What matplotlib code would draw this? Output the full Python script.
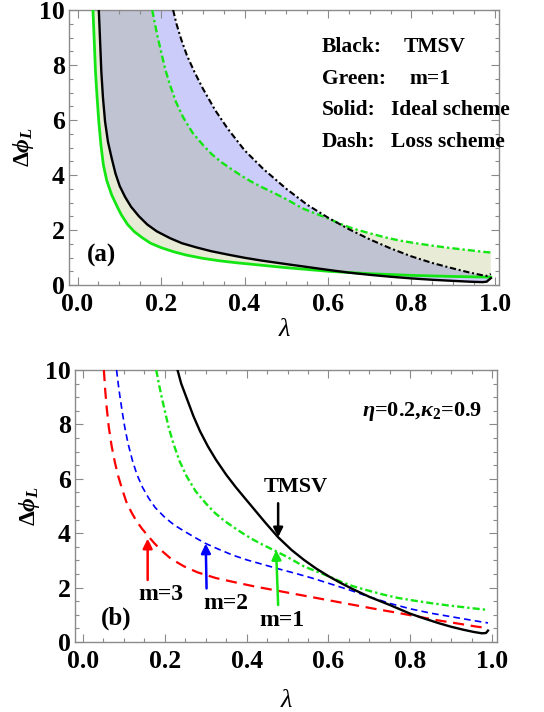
import numpy as np
import matplotlib
matplotlib.use("Agg")
import matplotlib.pyplot as plt
from matplotlib.ticker import MultipleLocator

plt.rcParams['font.family'] = ['Liberation Serif', 'DejaVu Serif']
plt.rcParams['mathtext.fontset'] = 'custom'
plt.rcParams['mathtext.rm'] = 'Liberation Serif:bold'
plt.rcParams['mathtext.bf'] = 'Liberation Serif:bold'
plt.rcParams['mathtext.it'] = 'Liberation Serif:bold:italic'

# ---------------- data ----------------
# m=1, ideal scheme (green solid, panel a)
lam_m1_ideal = [0.037, 0.040, 0.043, 0.047, 0.051, 0.056, 0.062, 0.070, 0.082, 0.095,
                0.105, 0.12, 0.136, 0.155, 0.175, 0.20, 0.23, 0.26, 0.30, 0.34,
                0.38, 0.44, 0.50, 0.60, 0.70, 0.80, 0.90, 0.97, 0.99]
phi_m1_ideal = [10, 8.9, 7.76, 6.8, 5.94, 5.1, 4.36, 3.8, 3.27, 2.85,
                2.55, 2.2, 1.94, 1.72, 1.52, 1.36, 1.21, 1.09, 0.97, 0.88,
                0.81, 0.72, 0.63, 0.5, 0.41, 0.35, 0.31, 0.29, 0.285]

# TMSV, ideal scheme (black solid, panel a)
lam_tmsv_ideal = [0.051, 0.054, 0.057, 0.061, 0.066, 0.073, 0.082, 0.091, 0.101, 0.114,
                  0.128, 0.147, 0.167, 0.19, 0.222, 0.25, 0.284, 0.32, 0.362, 0.40,
                  0.44, 0.50, 0.55, 0.60, 0.65, 0.70, 0.75, 0.80, 0.85, 0.90,
                  0.94, 0.97, 0.98, 0.99]
phi_tmsv_ideal = [10, 8.9, 7.76, 6.8, 5.94, 5.2, 4.6, 4.05, 3.6, 3.2,
                  2.85, 2.5, 2.2, 1.95, 1.7, 1.52, 1.37, 1.23, 1.1, 0.99,
                  0.89, 0.76, 0.655, 0.55, 0.45, 0.37, 0.3, 0.24, 0.19, 0.15,
                  0.12, 0.105, 0.12, 0.25]

# m=1, loss scheme (green dash-dot, both panels)
lam_m1_loss = [0.179, 0.186, 0.193, 0.2, 0.21, 0.222, 0.236, 0.253, 0.275, 0.30,
               0.322, 0.346, 0.37, 0.39, 0.415, 0.44, 0.47, 0.50, 0.54, 0.57,
               0.6, 0.63, 0.66, 0.70, 0.735, 0.77, 0.81, 0.85, 0.89, 0.93,
               0.97, 0.99]
phi_m1_loss = [10, 9.45, 8.95, 8.5, 7.85, 7.25, 6.65, 6.1, 5.55, 5.1,
               4.75, 4.45, 4.2, 4.0, 3.77, 3.57, 3.35, 3.12, 2.78, 2.6,
               2.42, 2.22, 2.05, 1.88, 1.74, 1.62, 1.52, 1.43, 1.35, 1.28,
               1.21, 1.18]

# TMSV, loss scheme as drawn in panel (a) (black dash-dot)
lam_tmsv_loss_a = [0.229, 0.237, 0.248, 0.262, 0.28, 0.30, 0.33, 0.36, 0.40, 0.445,
                   0.50, 0.55, 0.60, 0.65, 0.70, 0.75, 0.80, 0.85, 0.90, 0.94,
                   0.965, 0.98, 0.99]
phi_tmsv_loss_a = [10, 9.5, 8.95, 8.35, 7.75, 7.15, 6.35, 5.68, 4.9, 4.22,
                   3.5, 2.92, 2.45, 2.03, 1.66, 1.33, 1.04, 0.8, 0.6, 0.45,
                   0.37, 0.33, 0.4]

# TMSV, loss scheme as drawn in panel (b) (black solid)
lam_tmsv_loss_b = [0.231, 0.24, 0.255, 0.27, 0.286, 0.305, 0.325, 0.35, 0.373, 0.395,
                   0.42, 0.445, 0.477, 0.51, 0.54, 0.57, 0.6, 0.63, 0.66, 0.70,
                   0.75, 0.80, 0.835, 0.87, 0.90, 0.93, 0.955, 0.975, 0.985, 0.99]
phi_tmsv_loss_b = [10, 9.5, 8.9, 8.3, 7.75, 7.2, 6.7, 6.15, 5.7, 5.3,
                   4.85, 4.4, 3.85, 3.38, 3.02, 2.7, 2.42, 2.17, 1.94, 1.66,
                   1.36, 1.04, 0.86, 0.69, 0.56, 0.45, 0.37, 0.32, 0.33, 0.42]

# m=2, loss scheme (blue dashed, panel b)
lam_m2_loss = [0.082, 0.086, 0.09, 0.096, 0.102, 0.11, 0.121, 0.132, 0.145, 0.16,
               0.176, 0.2, 0.223, 0.25, 0.275, 0.30, 0.33, 0.365, 0.40, 0.44,
               0.48, 0.52, 0.56, 0.60, 0.65, 0.70, 0.75, 0.80, 0.85, 0.90,
               0.95, 0.99]
phi_m2_loss = [10, 9.5, 9.05, 8.45, 7.9, 7.3, 6.66, 6.15, 5.7, 5.3,
               4.95, 4.58, 4.3, 4.05, 3.83, 3.62, 3.42, 3.2, 3.02, 2.85,
               2.68, 2.52, 2.35, 2.16, 1.92, 1.66, 1.42, 1.22, 1.06, 0.93,
               0.8, 0.7]

# m=3, loss scheme (red dashed, panel b)
lam_m3_loss = [0.051, 0.054, 0.058, 0.063, 0.07, 0.078, 0.086, 0.096, 0.106, 0.118,
               0.13, 0.145, 0.16, 0.175, 0.192, 0.215, 0.247, 0.28, 0.325, 0.37,
               0.42, 0.47, 0.52, 0.57, 0.62, 0.67, 0.72, 0.77, 0.82, 0.87,
               0.92, 0.96, 0.99]
phi_m3_loss = [10, 9.3, 8.6, 7.9, 7.2, 6.6, 6.1, 5.6, 5.15, 4.78,
               4.46, 4.15, 3.88, 3.62, 3.36, 3.06, 2.78, 2.56, 2.35, 2.2,
               2.04, 1.9, 1.76, 1.62, 1.48, 1.34, 1.2, 1.07, 0.93, 0.79,
               0.67, 0.57, 0.51]

x_ticks = [0.0, 0.2, 0.4, 0.6, 0.8, 1.0]
x_ticklabels = ["0.0", "0.2", "0.4", "0.6", "0.8", "1.0"]
y_ticks = [0, 2, 4, 6, 8, 10]
y_ticklabels = ["0", "2", "4", "6", "8", "10"]

# ---------------- styling ----------------
GREEN = '#14e614'
BLUE = '#0000ff'
RED = '#ff0000'
SPINE = '#8a8a8a'

fig = plt.figure(figsize=(5.44, 7.12), dpi=100)
ax1 = fig.add_axes([69/544, 1-285/712, (499-69)/544, (285-10)/712])
ax2 = fig.add_axes([75/544, 1-642/712, (497-75)/544, (642-370)/712])


def style_axes(ax, xlim, xlabelpad):
    ax.set_xlim(*xlim)
    ax.set_ylim(0, 10)
    ax.set_xticks(x_ticks)
    ax.set_xticklabels(x_ticklabels)
    ax.set_yticks(y_ticks)
    ax.set_yticklabels(y_ticklabels)
    ax.xaxis.set_minor_locator(MultipleLocator(0.05))
    ax.yaxis.set_minor_locator(MultipleLocator(0.5))
    for s in ax.spines.values():
        s.set_color(SPINE)
        s.set_linewidth(1.0)
    ax.tick_params(which='both', direction='in', top=True, right=True, color=SPINE, width=0.8)
    ax.tick_params(which='major', length=5.5, labelsize=18.5)
    ax.tick_params(axis='x', which='major', pad=6)
    ax.tick_params(axis='y', which='major', pad=3)
    ax.tick_params(which='minor', length=3)
    for lab in ax.get_xticklabels() + ax.get_yticklabels():
        lab.set_fontweight('bold')
    ax.set_xlabel('λ', fontsize=19, fontstyle='italic', labelpad=xlabelpad)
    ax.set_ylabel(r'$\Delta\phi_L$', fontsize=17, labelpad=2)


# ---------------- panel (a) ----------------
style_axes(ax1, (-0.0204, 1.0096), 2)

ax1.fill(np.concatenate([lam_tmsv_ideal, lam_tmsv_loss_a[::-1]]),
         np.concatenate([phi_tmsv_ideal, phi_tmsv_loss_a[::-1]]),
         color=(0, 0, 0.9), alpha=0.2, lw=0, zorder=1)
ax1.fill(np.concatenate([lam_m1_ideal, lam_m1_loss[::-1]]),
         np.concatenate([phi_m1_ideal, phi_m1_loss[::-1]]),
         color=(0.55, 0.63, 0.2), alpha=0.2, lw=0, zorder=1)

ax1.plot(lam_m1_ideal, phi_m1_ideal, color=GREEN, lw=2.0, zorder=3)
ax1.plot(lam_tmsv_ideal, phi_tmsv_ideal, color='black', lw=1.7, zorder=4)
ax1.plot(lam_m1_loss, phi_m1_loss, color=GREEN, lw=1.7, ls=(0, (3, 1.3, 1, 1.3)), zorder=3)
ax1.plot(lam_tmsv_loss_a, phi_tmsv_loss_a, color='black', lw=1.5, ls=(0, (3, 1.3, 1, 1.3)), zorder=4)

tk = dict(fontsize=15.5, fontweight='bold', va='center', ha='left')
rows_y = [8.67, 7.49, 6.36, 5.21]
ax1.text(0.585, rows_y[0], 'Black:', **tk)
ax1.text(0.782, rows_y[0], 'TMSV', **tk)
ax1.text(0.585, rows_y[1], 'Green:', **tk)
ax1.text(0.795, rows_y[1], 'm=1', **tk)
ax1.text(0.585, rows_y[2], 'Solid:', **tk)
ax1.text(0.752, rows_y[2], 'Ideal scheme', **tk)
ax1.text(0.585, rows_y[3], 'Dash:', **tk)
ax1.text(0.752, rows_y[3], 'Loss scheme', **tk)
ax1.text(0.058, 1.09, '(a)', fontsize=18, fontweight='bold', ha='center', va='center')

# ---------------- panel (b) ----------------
style_axes(ax2, (-0.0196, 1.012), 12)

ax2.plot(lam_m3_loss, phi_m3_loss, color=RED, lw=1.6, ls=(0, (5, 3)), zorder=3)
ax2.plot(lam_m2_loss, phi_m2_loss, color=BLUE, lw=1.2, ls=(0, (4, 2.5)), zorder=3)
ax2.plot(lam_m1_loss, phi_m1_loss, color=GREEN, lw=1.7, ls=(0, (3, 1.3, 1, 1.3)), zorder=3)
ax2.plot(lam_tmsv_loss_b, phi_tmsv_loss_b, color='black', lw=1.7, zorder=4)

ap = lambda c: dict(arrowstyle='-|>', color=c, lw=1.8, mutation_scale=14, shrinkA=0, shrinkB=0)
ax2.annotate('', xy=(0.477, 3.85), xytext=(0.477, 5.1), arrowprops=ap('black'))
ax2.annotate('', xy=(0.472, 3.38), xytext=(0.477, 1.36), arrowprops=ap(GREEN))
ax2.annotate('', xy=(0.300, 3.62), xytext=(0.302, 1.97), arrowprops=ap(BLUE))
ax2.annotate('', xy=(0.158, 3.8), xytext=(0.158, 2.28), arrowprops=ap(RED))

ak = dict(fontsize=17, fontweight='bold', ha='center', va='center')
ax2.text(0.52, 5.7, 'TMSV', fontsize=16, fontweight='bold', ha='center', va='center')
ax2.text(0.486, 0.78, 'm=1', **ak)
ax2.text(0.35, 1.4, 'm=2', **ak)
ax2.text(0.19, 1.76, 'm=3', **ak)
ax2.text(0.08, 0.88, '(b)', fontsize=18, fontweight='bold', ha='center', va='center')
ax2.text(0.975, 8.47, r'$\eta$=0.2,$\kappa_{2}$=0.9', fontsize=16, fontweight='bold',
         ha='right', va='center')

fig.savefig('out.png', dpi=100)
